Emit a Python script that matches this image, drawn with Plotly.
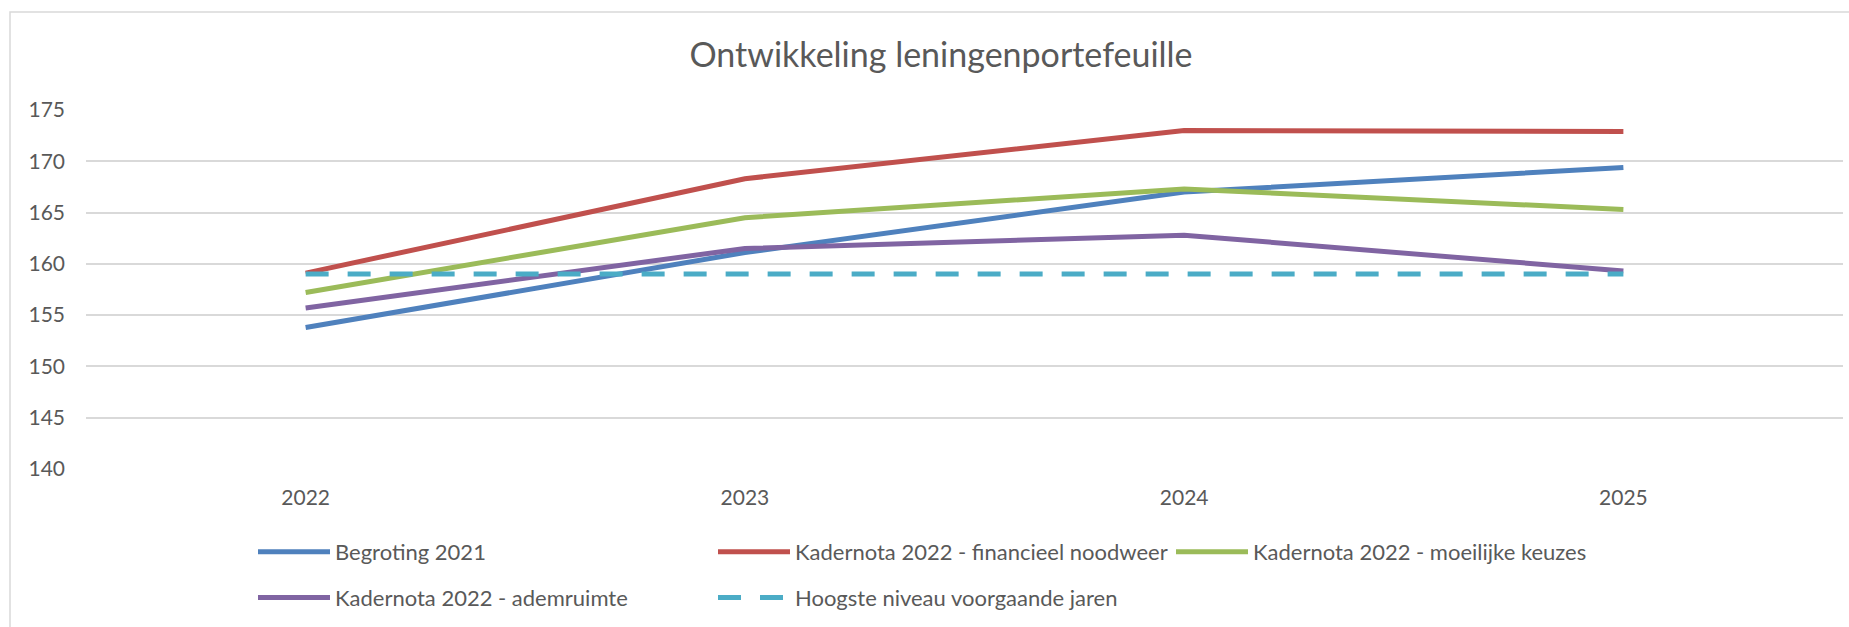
import plotly.graph_objects as go

years = ["2022", "2023", "2024", "2025"]
begroting_2021 = [153.8, 161.1, 167.0, 169.4]
financieel_noodweer = [159.1, 168.3, 173.0, 172.9]
moeilijke_keuzes = [157.2, 164.5, 167.3, 165.3]
ademruimte = [155.7, 161.5, 162.8, 159.3]
hoogste_niveau = [159.0, 159.0, 159.0, 159.0]

series = [
    ("Begroting 2021", begroting_2021, "#4F81BD", "solid", "legend"),
    ("Kadernota 2022 - financieel noodweer", financieel_noodweer, "#C0504D", "solid", "legend2"),
    ("Kadernota 2022 - moeilijke keuzes", moeilijke_keuzes, "#9BBB59", "solid", "legend3"),
    ("Kadernota 2022 - ademruimte", ademruimte, "#8064A2", "solid", "legend"),
    ("Hoogste niveau voorgaande jaren", hoogste_niveau, "#4BACC6", "23px,19px", "legend2"),
]

FONT = "Lato"
GREY = "#595959"
W, H = 1849, 627
L, R, T, B = 86, 6, 110, 158

fig = go.Figure()
for i, (name, vals, color, dash, leg) in enumerate(series):
    fig.add_trace(go.Scatter(
        x=years, y=vals, name=name, mode="lines",
        line=dict(color=color, width=5, dash=dash),
        legend=leg, legendgroup=f"g{i}",
    ))

legend_common = dict(
    orientation="v", xref="container", yref="container",
    yanchor="top", xanchor="left", itemwidth=72,
    font=dict(family=FONT, size=22, color=GREY),
    tracegroupgap=14, bgcolor="rgba(0,0,0,0)",
)
ytop = 1 - 531 / H

fig.update_layout(
    width=W, height=H,
    margin=dict(l=L, r=R, t=T, b=B, autoexpand=False),
    paper_bgcolor="white", plot_bgcolor="white",
    title=dict(text="Ontwikkeling leningenportefeuille",
               x=941 / W, xref="container", xanchor="center",
               y=1 - 55 / H, yref="container", yanchor="middle",
               font=dict(family=FONT, size=34, color=GREY)),
    xaxis=dict(type="category", range=[-0.5, 3.5], showgrid=False,
               showline=False, ticks="", zeroline=False,
               tickfont=dict(family=FONT, size=21, color=GREY),
               ticklabelstandoff=14),
    yaxis=dict(range=[140, 175], tickvals=[140, 145, 150, 155, 160, 165, 170, 175],
               showgrid=True, gridcolor="#D9D9D9", gridwidth=1.5,
               zeroline=False, showline=False, ticks="",
               tickfont=dict(family=FONT, size=21, color=GREY),
               ticklabelstandoff=20),
    legend=dict(x=253 / W, y=ytop, **legend_common),
    legend2=dict(x=713 / W, y=ytop, **legend_common),
    legend3=dict(x=1171 / W, y=ytop, **legend_common),
    shapes=[dict(type="rect", xref="paper", yref="paper",
                 x0=(10 - L) / (W - L - R), x1=1.2,
                 y0=-1.0, y1=1 + (T - 12) / (H - T - B),
                 line=dict(color="#D9D9D9", width=1.5), fillcolor="rgba(0,0,0,0)",
                 layer="below")],
)

fig.write_html("out.html")
